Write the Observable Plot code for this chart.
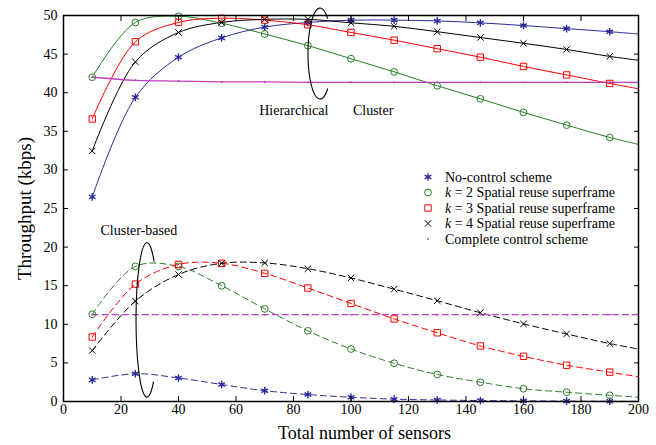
<!DOCTYPE html>
<html>
<head>
<meta charset="utf-8">
<script src="https://cdn.jsdelivr.net/npm/d3@7"></script>
<script src="https://cdn.jsdelivr.net/npm/@observablehq/plot@0.6"></script>
<style>
  html, body { margin: 0; padding: 0; background: #ffffff; }
  #chart { width: 656px; height: 445px; }
  #chart svg, #chart svg text { font-family: "Liberation Serif", "Times New Roman", Times, serif; }
</style>
</head>
<body>
<div id="chart"></div>
<script>
// ---------- data ----------
const sensors = [10, 25, 40, 55, 70, 85, 100, 115, 130, 145, 160, 175, 190, 200];
const lastMarkerSensor = 190;

// Hierarchical (solid)
const hierNoControl = [26.5, 39.4, 44.6, 47.1, 48.5, 49.1, 49.4, 49.4, 49.3, 49.05, 48.7, 48.3, 47.9, 47.6];
const hierK2        = [42.0, 49.1, 49.9, 49.0, 47.6, 46.1, 44.4, 42.7, 40.9, 39.2, 37.45, 35.8, 34.2, 33.3];
const hierK3        = [36.6, 46.6, 49.1, 49.65, 49.4, 48.8, 47.8, 46.8, 45.7, 44.6, 43.4, 42.3, 41.2, 40.5];
const hierK4        = [32.45, 44.0, 47.8, 49.1, 49.5, 49.5, 49.05, 48.6, 47.9, 47.15, 46.4, 45.6, 44.7, 44.2];
const hierComplete  = [42.0, 41.6, 41.5, 41.4, 41.4, 41.35, 41.35, 41.35, 41.35, 41.35, 41.35, 41.35, 41.35, 41.35];

// Cluster-based (dashed)
const clusNoControl = [2.8, 3.6, 3.05, 2.2, 1.4, 0.9, 0.55, 0.3, 0.2, 0.12, 0.08, 0.05, 0.03, 0.02];
const clusK2        = [11.3, 17.5, 17.5, 15.0, 12.0, 9.15, 6.8, 4.95, 3.5, 2.5, 1.65, 1.2, 0.8, 0.55];
const clusK3        = [8.35, 15.2, 17.75, 17.9, 16.6, 14.7, 12.7, 10.7, 8.9, 7.2, 5.85, 4.7, 3.8, 3.2];
const clusK4        = [6.6, 13.0, 16.45, 17.9, 17.95, 17.2, 16.0, 14.55, 13.05, 11.5, 10.05, 8.75, 7.5, 6.8];
const clusComplete  = [11.25, 11.25, 11.25, 11.25, 11.25, 11.25, 11.25, 11.25, 11.25, 11.25, 11.25, 11.25, 11.25, 11.25];

const seriesKeys = ["noControl", "k2", "k3", "k4", "complete"];
const legendLabels = [
  "No-control scheme",
  "k = 2 Spatial reuse superframe",
  "k = 3 Spatial reuse superframe",
  "k = 4 Spatial reuse superframe",
  "Complete control scheme"
];

const xTicks = [0, 20, 40, 60, 80, 100, 120, 140, 160, 180, 200];
const yTicks = [0, 5, 10, 15, 20, 25, 30, 35, 40, 45, 50];
const xLabel = "Total number of sensors";
const yLabel = "Throughput (kbps)";

// annotation labels and bracket ellipses (data units)
const noteLabels = ["Hierarchical", "Cluster", "Cluster-based"];
const noteX = [80.1, 107.7, 26.2];
const noteY = [37.65, 37.65, 22.2];
const bracketCx = [89.4, 29.2];
const bracketCy = [45.0, 10.5];
const bracketRx = [4.2, 3.8];
const bracketRy = [5.9, 10.0];
const bracketOpen = [[-50, 50], [-49, 53]];

// ---------- styles ----------
const FONT = "Liberation Serif, Times New Roman, Times, serif";
const style = {
  noControl: {color: "#2b2b9b", symbol: "asterisk", fill: "none", r: 3.6, sw: 1.4},
  k2:        {color: "#2a7d2a", symbol: "circle",   fill: "none", r: 3.4, sw: 1},
  k3:        {color: "#ff0000", symbol: "square",   fill: "none", r: 3.6, sw: 1},
  k4:        {color: "#000000", symbol: "times",    fill: "none", r: 3.0, sw: 1},
  complete:  {color: "#bf3fbf", symbol: "circle",   fill: "#bf3fbf", r: 1.0, sw: 0}
};

const groups = {
  hier:  {noControl: hierNoControl, k2: hierK2, k3: hierK3, k4: hierK4, complete: hierComplete},
  clus:  {noControl: clusNoControl, k2: clusK2, k3: clusK3, k4: clusK4, complete: clusComplete}
};

const rows = [];
for (const g of Object.keys(groups)) {
  for (const s of seriesKeys) {
    groups[g][s].forEach((v, i) => rows.push({group: g, series: s, x: sensors[i], y: v}));
  }
}

const marks = [];
for (const g of Object.keys(groups)) {
  for (const s of seriesKeys) {
    const data = rows.filter(d => d.group === g && d.series === s);
    const st = style[s];
    marks.push(Plot.line(data, {
      x: "x", y: "y", stroke: st.color, strokeWidth: s === "complete" ? 1.3 : 1,
      curve: "catmull-rom", clip: true,
      strokeDasharray: g === "clus" ? "6,4" : null
    }));
  }
}
for (const g of Object.keys(groups)) {
  for (const s of seriesKeys) {
    const data = rows.filter(d => d.group === g && d.series === s && d.x <= lastMarkerSensor);
    const st = style[s];
    marks.push(Plot.dot(data, {
      x: "x", y: "y", symbol: st.symbol, r: st.r,
      stroke: st.sw ? st.color : null, strokeWidth: st.sw, fill: st.fill
    }));
  }
}

// bracket ellipses (open arcs) placed via the scales
marks.push((index, scales) => {
  const g = d3.create("svg:g").attr("fill", "none").attr("stroke", "#000").attr("stroke-width", 1.1);
  bracketCx.forEach((cxv, i) => {
    const cx = scales.x(cxv), cy = scales.y(bracketCy[i]);
    const rx = Math.abs(scales.x(cxv + bracketRx[i]) - cx);
    const ry = Math.abs(scales.y(bracketCy[i] + bracketRy[i]) - cy);
    const [a0, a1] = bracketOpen[i].map(a => a * Math.PI / 180);
    const x0 = cx + rx * Math.cos(a0), y0 = cy + ry * Math.sin(a0);
    const x1 = cx + rx * Math.cos(a1), y1 = cy + ry * Math.sin(a1);
    g.append("path").attr("d", `M${x0},${y0}A${rx},${ry} 0 1 0 ${x1},${y1}`);
  });
  return g.node();
});

marks.push(Plot.text(noteLabels, {
  x: (d, i) => noteX[i], y: (d, i) => noteY[i], text: d => d,
  fontSize: 14, fill: "#000", fontFamily: FONT
}));

// legend
marks.push((index, scales, values, dims) => {
  const g = d3.create("svg:g").attr("font-family", FONT).attr("font-size", 14)
    .attr("fill", "#000").attr("text-anchor", "start");
  const symbolType = {asterisk: d3.symbolAsterisk, circle: d3.symbolCircle, square: d3.symbolSquare, times: d3.symbolTimes};
  const x0 = dims.marginLeft + 365;
  const y0 = dims.marginTop + 162;
  legendLabels.forEach((lab, i) => {
    const st = style[seriesKeys[i]];
    const y = y0 + i * 15.5;
    const size = Math.PI * st.r * st.r;
    g.append("path")
      .attr("d", d3.symbol(symbolType[st.symbol], size)())
      .attr("transform", `translate(${x0},${y})`)
      .attr("fill", st.fill)
      .attr("stroke", st.sw ? st.color : "none")
      .attr("stroke-width", st.sw || null);
    const t = g.append("text").attr("x", x0 + 17).attr("y", y).attr("dy", "0.35em");
    if (lab.startsWith("k ")) {
      t.append("tspan").attr("font-style", "italic").text("k");
      t.append("tspan").text(lab.slice(1));
    } else {
      t.text(lab);
    }
  });
  return g.node();
});

// axes (inward ticks on all four sides)
marks.push(Plot.axisX({anchor: "bottom", ticks: xTicks, tickSize: -5, tickPadding: 7.5, fontSize: 14, label: null, tickFormat: d => String(d)}));
marks.push(Plot.axisX({anchor: "top", ticks: xTicks, tickSize: -5, tickFormat: () => "", label: null}));
marks.push(Plot.axisY({anchor: "left", ticks: yTicks, tickSize: -5, tickPadding: 11, fontSize: 14, label: null, tickFormat: d => String(d)}));
marks.push(Plot.axisY({anchor: "right", ticks: yTicks, tickSize: -5, tickFormat: () => "", label: null}));
marks.push(Plot.frame({stroke: "#000", strokeWidth: 1.5}));

// axis titles
marks.push(Plot.text([xLabel], {frameAnchor: "bottom", lineAnchor: "middle", textAnchor: "middle", text: d => d, dy: 32, dx: 13.5, fontSize: 18, fontFamily: FONT, fill: "#000"}));
marks.push(Plot.text([yLabel], {frameAnchor: "left", lineAnchor: "middle", textAnchor: "middle", text: d => d, rotate: -90, dx: -39, fontSize: 19, fontFamily: FONT, fill: "#000"}));

const chart = Plot.plot({
  width: 656,
  height: 445,
  marginLeft: 63,
  marginRight: 18,
  marginTop: 15,
  marginBottom: 44,
  x: {domain: [0, 200]},
  y: {domain: [0, 50]},
  style: {fontFamily: FONT, fontSize: "14px", color: "#000", background: "#fff", overflow: "visible"},
  marks
});
document.getElementById("chart").appendChild(chart);
</script>
</body>
</html>
